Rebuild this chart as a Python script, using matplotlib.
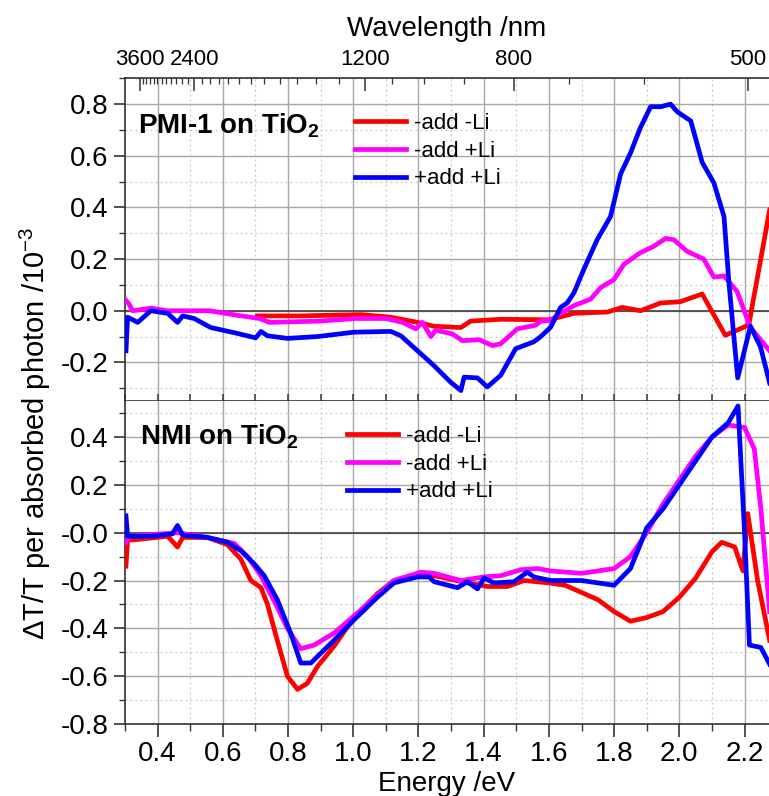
import numpy as np
import matplotlib
matplotlib.use("Agg")
import matplotlib.pyplot as plt
from matplotlib.ticker import MultipleLocator, FixedLocator

plt.rcParams['font.family'] = ['Liberation Sans', 'DejaVu Sans']
plt.rcParams['mathtext.fontset'] = 'custom'
plt.rcParams['mathtext.rm'] = 'Liberation Sans'
plt.rcParams['mathtext.it'] = 'Liberation Sans:italic'
plt.rcParams['mathtext.bf'] = 'Liberation Sans:bold'

# ---- data (energy in eV, signal in 1e-3) ----
# PMI-1 on TiO2
pmi_red_x = [0.706, 0.839, 1.023, 1.115, 1.197, 1.248, 1.330, 1.360, 1.452, 1.600,
             1.677, 1.779, 1.825, 1.881, 1.942, 2.003, 2.070, 2.141, 2.213, 2.277]
pmi_red_y = [-0.02, -0.02, -0.015, -0.025, -0.045, -0.06, -0.065, -0.04, -0.033, -0.035,
             -0.01, -0.005, 0.013, 0.0, 0.03, 0.035, 0.065, -0.095, -0.055, 0.39]

pmi_mag_x = [0.303, 0.313, 0.323, 0.38, 0.43, 0.56, 0.641, 0.713, 0.743, 0.896, 1.008,
             1.100, 1.151, 1.192, 1.212, 1.238, 1.253, 1.304, 1.335, 1.386, 1.427, 1.452,
             1.503, 1.559, 1.575, 1.605, 1.636, 1.677, 1.728, 1.759, 1.799, 1.830, 1.881,
             1.922, 1.958, 1.983, 2.024, 2.075, 2.106, 2.137, 2.177, 2.218, 2.277]
pmi_mag_y = [0.04, 0.025, 0.0, 0.01, 0.0, 0.0, -0.017, -0.03, -0.045, -0.04, -0.03,
             -0.03, -0.045, -0.07, -0.045, -0.10, -0.075, -0.09, -0.116, -0.112, -0.135, -0.128,
             -0.07, -0.056, -0.04, -0.037, -0.01, 0.02, 0.045, 0.09, 0.12, 0.18, 0.225,
             0.25, 0.28, 0.275, 0.23, 0.20, 0.13, 0.135, 0.075, -0.065, -0.155]

pmi_blue_x = [0.303, 0.308, 0.339, 0.379, 0.431, 0.461, 0.477, 0.512, 0.563, 0.635,
              0.701, 0.717, 0.737, 0.798, 0.890, 1.002, 1.115, 1.146, 1.197, 1.248,
              1.299, 1.330, 1.340, 1.381, 1.411, 1.452, 1.498, 1.554, 1.575, 1.605,
              1.636, 1.656, 1.677, 1.707, 1.748, 1.789, 1.820, 1.850, 1.881, 1.912,
              1.943, 1.973, 1.994, 2.035, 2.070, 2.106, 2.137, 2.152, 2.179, 2.218,
              2.249, 2.277]
pmi_blue_y = [-0.155, -0.025, -0.045, 0.0, -0.01, -0.045, -0.02, -0.03, -0.065, -0.085,
              -0.105, -0.08, -0.097, -0.107, -0.10, -0.083, -0.08, -0.097, -0.155, -0.213,
              -0.277, -0.309, -0.257, -0.26, -0.295, -0.25, -0.147, -0.12, -0.10, -0.064,
              0.013, 0.03, 0.07, 0.16, 0.275, 0.365, 0.53, 0.61, 0.71, 0.79,
              0.79, 0.80, 0.77, 0.735, 0.575, 0.495, 0.365, 0.11, -0.26, -0.06,
              -0.14, -0.28]

# NMI on TiO2
nmi_red_x = [0.303, 0.308, 0.326, 0.431, 0.461, 0.477, 0.553, 0.614, 0.655, 0.686,
             0.717, 0.737, 0.767, 0.798, 0.829, 0.859, 0.890, 0.941, 1.002, 1.074,
             1.125, 1.207, 1.268, 1.350, 1.411, 1.473, 1.524, 1.600, 1.65, 1.70, 1.75,
             1.80, 1.85, 1.90, 1.95, 2.00, 2.05, 2.10, 2.13, 2.17, 2.195, 2.21, 2.24, 2.277]
nmi_red_y = [-0.14, -0.03, -0.03, -0.015, -0.06, -0.02, -0.02, -0.05, -0.11, -0.20,
             -0.23, -0.30, -0.45, -0.60, -0.655, -0.63, -0.56, -0.475, -0.355, -0.255,
             -0.20, -0.17, -0.185, -0.21, -0.225, -0.225, -0.20, -0.21, -0.22, -0.25, -0.28,
             -0.33, -0.37, -0.355, -0.33, -0.27, -0.19, -0.08, -0.04, -0.06, -0.16, 0.08,
             -0.2, -0.45]

nmi_mag_x = [0.303, 0.313, 0.461, 0.553, 0.635, 0.676, 0.717, 0.759, 0.798, 0.839,
             0.880, 0.941, 1.022, 1.125, 1.207, 1.248, 1.330, 1.401, 1.452, 1.514,
             1.565, 1.605, 1.70, 1.80, 1.85, 1.90, 1.95, 2.00, 2.05, 2.10, 2.15,
             2.20, 2.23, 2.25, 2.277]
nmi_mag_y = [-0.04, -0.015, 0.0, -0.02, -0.045, -0.10, -0.18, -0.29, -0.40, -0.485,
             -0.47, -0.42, -0.325, -0.20, -0.165, -0.17, -0.20, -0.185, -0.18, -0.155,
             -0.15, -0.16, -0.17, -0.15, -0.10, 0.0, 0.12, 0.22, 0.32, 0.40, 0.45,
             0.44, 0.35, 0.10, -0.33]

nmi_blue_x = [0.303, 0.308, 0.379, 0.445, 0.461, 0.477, 0.553, 0.614, 0.655, 0.696,
              0.727, 0.767, 0.808, 0.839, 0.870, 0.941, 1.002, 1.074, 1.125, 1.197,
              1.233, 1.248, 1.320, 1.350, 1.381, 1.401, 1.432, 1.493, 1.534, 1.554,
              1.605, 1.70, 1.80, 1.85, 1.88, 1.90, 1.95, 2.00, 2.05, 2.10, 2.15,
              2.18, 2.20, 2.215, 2.25, 2.277]
nmi_blue_y = [0.07, -0.015, -0.015, -0.005, 0.03, -0.01, -0.02, -0.04, -0.075, -0.13,
              -0.18, -0.28, -0.42, -0.545, -0.545, -0.45, -0.365, -0.27, -0.21, -0.185,
              -0.185, -0.205, -0.23, -0.205, -0.235, -0.19, -0.21, -0.205, -0.165, -0.185,
              -0.20, -0.20, -0.22, -0.15, -0.05, 0.02, 0.10, 0.20, 0.30, 0.40, 0.46,
              0.53, 0.0, -0.47, -0.48, -0.55]

labels = ["-add -Li", "-add +Li", "+add +Li"]
colors = ["#ff0000", "#ff00ff", "#0000ff"]

# top axis: wavelength labels and where they sit on the energy axis
wl_major = [3600, 2400, 1200, 800, 500]
wl_major_pos = [0.346, 0.512, 1.036, 1.492, 2.21]

W, H = 769, 796
fig = plt.figure(figsize=(W / 100, H / 100), dpi=100)
left, right = 125 / W, 1.0
top, bot = 1 - 78.3 / H, 1 - 724 / H
mid = (top + bot) / 2
ax1 = fig.add_axes([left, mid, right - left, top - mid])
ax2 = fig.add_axes([left, bot, right - left, mid - bot], sharex=ax1)

panels = [
    (ax1, [(pmi_red_x, pmi_red_y), (pmi_mag_x, pmi_mag_y), (pmi_blue_x, pmi_blue_y)],
     (-0.35, 0.9), np.arange(-0.2, 0.81, 0.2)),
    (ax2, [(nmi_red_x, nmi_red_y), (nmi_mag_x, nmi_mag_y), (nmi_blue_x, nmi_blue_y)],
     (-0.8, 0.55), np.arange(-0.8, 0.41, 0.2)),
]

for ax, series, ylim, yt in panels:
    for (x, y), c, lab in zip(series, colors, labels):
        ax.plot(x, y, color=c, lw=3.4, label=lab, zorder=3)
    ax.axhline(0, color='#404040', lw=1.2, zorder=2)
    ax.set_xlim(0.3, 2.275)
    ax.set_ylim(*ylim)
    ax.set_yticks(yt)
    ax.yaxis.set_minor_locator(MultipleLocator(0.1))
    ax.xaxis.set_major_locator(MultipleLocator(0.2))
    ax.xaxis.set_minor_locator(MultipleLocator(0.1))
    ax.grid(which='major', color='#a8a8a8', lw=1.0, ls='-', zorder=0)
    ax.grid(which='minor', color='#c8c8c8', lw=0.9, ls=(0, (1.5, 2.5)), zorder=0)
    ax.spines['right'].set_visible(False)
    for s in ['left', 'bottom', 'top']:
        ax.spines[s].set_color('#333333')
        ax.spines[s].set_linewidth(1.2)
    ax.tick_params(axis='y', which='major', direction='out', length=8, width=1.2,
                   labelsize=20, color='#333333', pad=4)
    ax.tick_params(axis='y', which='minor', direction='out', length=4, width=1.0,
                   color='#333333')
    ax.yaxis.set_major_formatter(matplotlib.ticker.FormatStrFormatter('%.1f'))
    ax.set_axisbelow(True)

ax1.tick_params(axis='x', which='both', direction='in', labelbottom=False,
                length=5, width=1.1, color='#333333')
ax2.tick_params(axis='x', which='major', direction='out', length=9, width=1.2,
                labelsize=20, color='#333333', pad=3)
ax2.tick_params(axis='x', which='minor', direction='out', length=5, width=1.0,
                color='#333333')
ax2.xaxis.set_major_formatter(matplotlib.ticker.FormatStrFormatter('%.1f'))
ax2.spines['top'].set_visible(False)

# top wavelength axis
axt = ax1.twiny()
axt.set_xlim(ax1.get_xlim())
axt.xaxis.set_major_locator(FixedLocator(wl_major_pos))
axt.set_xticklabels([str(w) for w in wl_major])
wl_minor = np.arange(3600, 499, -100)
inv_major = 1 / np.array(wl_major, dtype=float)
minor_pos = np.interp(1 / wl_minor, inv_major, wl_major_pos)
axt.xaxis.set_minor_locator(FixedLocator(minor_pos))
axt.tick_params(axis='x', which='major', direction='in', length=9, width=1.1,
                labelsize=16, color='#333333', pad=6)
axt.tick_params(axis='x', which='minor', direction='in', length=4, width=0.9,
                color='#333333')
for s in axt.spines.values():
    s.set_visible(False)
axt.set_xlabel('Wavelength /nm', fontsize=20, labelpad=9)

ax2.set_xlabel('Energy /eV', fontsize=20, labelpad=3)
fig.text(35 / W, 1 - 433 / H, 'ΔT/T per absorbed photon /10$^{\\mathrm{-3}}$',
         rotation=90, fontsize=21, ha='center', va='center')

# panel titles
fig.text(138 / W, 1 - 133 / H, 'PMI-1 on TiO$_{\\mathbf{2}}$', fontsize=20,
         fontweight='bold', ha='left', va='baseline')
fig.text(140 / W, 1 - 445 / H, 'NMI on TiO$_{\\mathbf{2}}$', fontsize=20,
         fontweight='bold', ha='left', va='baseline')

# legends
leg_kw = dict(frameon=False, loc='upper left', fontsize=16, handlelength=2.3,
              handletextpad=0.35, labelspacing=0.3, borderpad=0, borderaxespad=0)
ax1.legend(bbox_to_anchor=(355 / W, 1 - 113 / H), bbox_transform=fig.transFigure, **leg_kw)
ax2.legend(bbox_to_anchor=(347 / W, 1 - 426 / H), bbox_transform=fig.transFigure, **leg_kw)

fig.savefig('out.png', dpi=100)
